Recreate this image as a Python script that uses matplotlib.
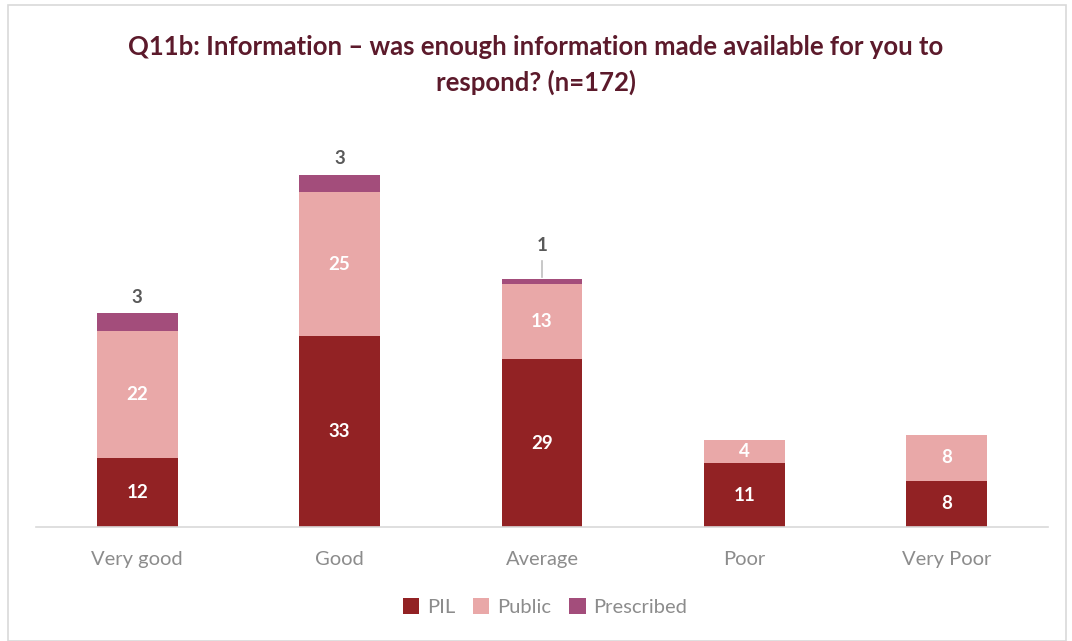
import matplotlib.pyplot as plt
from matplotlib.patches import Rectangle

plt.rcParams['font.family'] = ['Lato', 'DejaVu Sans']

categories = ['Very good', 'Good', 'Average', 'Poor', 'Very Poor']
pil = [12, 33, 29, 11, 8]
public = [22, 25, 13, 4, 8]
prescribed = [3, 3, 1, 0, 0]

c_pil = '#922224'
c_public = '#E9A8A8'
c_presc = '#A34D7B'

fig = plt.figure(figsize=(10.72, 6.41), dpi=100)
fig.patches.append(Rectangle((8 / 1072, 0), 1058 / 1072, 636 / 641, transform=fig.transFigure,
                             fill=False, edgecolor='#D9D9D9', linewidth=1.2))

ax = fig.add_axes([36 / 1072, (641 - 527) / 641, 1012 / 1072, 387 / 641])
x = range(len(categories))
w = 0.4
b1 = ax.bar(x, pil, w, color=c_pil, label='PIL')
b2 = ax.bar(x, public, w, bottom=pil, color=c_public, label='Public')
bottom3 = [p + q for p, q in zip(pil, public)]
b3 = ax.bar(x, prescribed, w, bottom=bottom3, color=c_presc, label='Prescribed')

ax.set_xlim(-0.5, 4.5)
ax.set_ylim(0, 67)

# value labels inside the lower two segments, totals-style label above the top one
for i in x:
    ax.text(i, pil[i] / 2, str(pil[i]), ha='center', va='center',
            color='white', fontsize=13.5, fontweight='bold')
    ax.text(i, pil[i] + public[i] / 2, str(public[i]), ha='center', va='center',
            color='white', fontsize=13.5, fontweight='bold')
    if prescribed[i] > 0:
        top = bottom3[i] + prescribed[i]
        if prescribed[i] < 2:
            ax.plot([i, i], [top + 0.2, top + 3], color='#BFBFBF', lw=1.2)
            ax.text(i, top + 5.8, str(prescribed[i]), ha='center', va='center',
                    color='#595959', fontsize=13.5, fontweight='bold')
        else:
            ax.text(i, top + 2.8, str(prescribed[i]), ha='center', va='center',
                    color='#595959', fontsize=13.5, fontweight='bold')

for s in ['top', 'right', 'left']:
    ax.spines[s].set_visible(False)
ax.spines['bottom'].set_color('#D9D9D9')
ax.spines['bottom'].set_linewidth(1.2)
ax.set_yticks([])
ax.set_xticks(list(x))
ax.set_xticklabels(categories, fontsize=14.5, color='#8C8C8C')
ax.tick_params(axis='x', length=0, pad=17)

fig.text(0.5, 1 - 47 / 641, 'Q11b: Information – was enough information made available for you to',
         ha='center', va='center', fontsize=18.5, fontweight='bold', color='#5C1A2B')
fig.text(0.5, 1 - 82 / 641, 'respond? (n=172)',
         ha='center', va='center', fontsize=18.5, fontweight='bold', color='#5C1A2B')

fig.legend(handles=[b1, b2, b3], loc='center', bbox_to_anchor=(545 / 1072, 1 - 607 / 641),
           ncol=3, frameon=False, fontsize=14.5, labelcolor='#8C8C8C',
           handlelength=0.8, handleheight=0.8, handletextpad=0.4, columnspacing=0.9)

fig.savefig('out.png', dpi=100)
